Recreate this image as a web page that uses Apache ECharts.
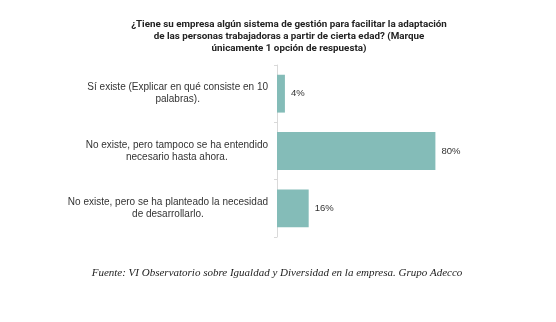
<!DOCTYPE html>
<html><head><meta charset="utf-8">
<script src="https://cdn.jsdelivr.net/npm/echarts@6/dist/echarts.min.js"></script>
<style>html,body{margin:0;padding:0;background:#fff}#c{width:556px;height:322px}</style>
</head><body><div id="c"></div>
<script>
const titleLines = ["¿Tiene su empresa algún sistema de gestión para facilitar la adaptación","de las personas trabajadoras a partir de cierta edad? (Marque","únicamente 1 opción de respuesta)"];
const categories = ["Sí existe (Explicar en qué consiste en 10\npalabras).","No existe, pero tampoco se ha entendido\nnecesario hasta ahora.","No existe, pero se ha planteado la necesidad\nde desarrollarlo."];
const values = [4, 80, 16];
const source = "Fuente: VI Observatorio sobre Igualdad y Diversidad en la empresa. Grupo Adecco";

const chart = echarts.init(document.getElementById('c'), null, {renderer:'canvas'});
chart.setOption({
  animation:false,
  title:[{
    text:titleLines.join('\n'), left:284, top:14, textAlign:'center',
    textStyle:{fontFamily:'Roboto, sans-serif', fontSize:9.8, fontWeight:'bold', color:'#222', lineHeight:12}
  },{
    text:source, left:272, top:263, textAlign:'center',
    textStyle:{fontFamily:'Liberation Serif, serif', fontSize:11, fontStyle:'italic', fontWeight:'normal', color:'#222'}
  }],
  grid:{left:277, right:81, top:65, bottom:85, containLabel:false},
  xAxis:{type:'value', min:0, max:100, show:false},
  yAxis:{type:'category', inverse:true, data:categories,
    axisLine:{show:true, lineStyle:{color:'#d9d9d9', width:1}},
    axisTick:{show:true, length:3, lineStyle:{color:'#d9d9d9'}},
    axisLabel:{margin:9, align:'right',
      formatter:function(v){return v.split('\n').map(function(l){return '{c|'+l+'}';}).join('\n');},
      rich:{c:{align:'center', fontFamily:'Liberation Sans, Arial, sans-serif', fontSize:10, color:'#333', lineHeight:12}}
    }
  },
  series:[{type:'bar', data:values, barCategoryGap:'34%',
    itemStyle:{color:'#84bcb8'},
    label:{show:true, position:'right', distance:6, formatter:'{c}%', fontFamily:'Liberation Sans, Arial, sans-serif', fontSize:9.5, color:'#333'}
  }]
});
</script></body></html>
